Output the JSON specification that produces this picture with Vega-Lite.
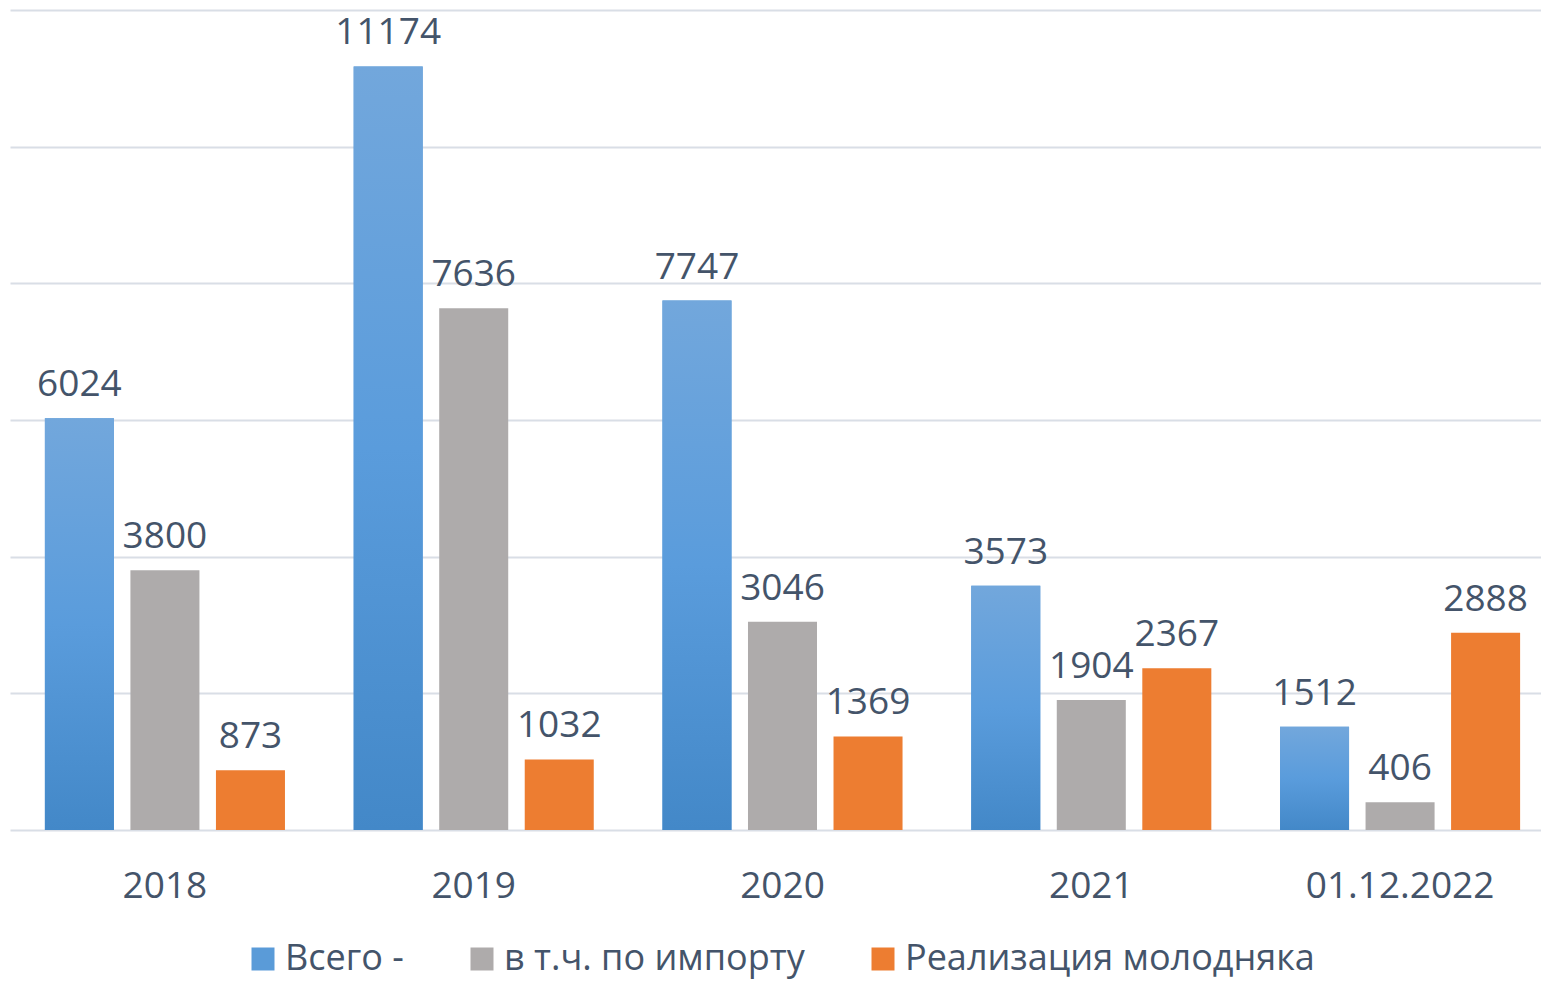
{
  "$schema": "https://vega.github.io/schema/vega-lite/v6.json",
  "autosize": "none",
  "padding": {"left": 10, "top": 10, "right": 0, "bottom": 153},
  "width": 1531,
  "height": 820,
  "background": "white",
  "config": {
    "view": {"stroke": null},
    "font": "Open Sans",
    "axis": {"labelFont": "Open Sans", "labelColor": "#44546A"},
    "legend": {"labelFont": "Open Sans", "labelColor": "#44546A"}
  },
  "data": {
    "values": [
      {"year": "2018", "series": "Всего -", "value": 6024},
      {"year": "2018", "series": "в т.ч. по импорту", "value": 3800},
      {"year": "2018", "series": "Реализация молодняка", "value": 873},
      {"year": "2019", "series": "Всего -", "value": 11174},
      {"year": "2019", "series": "в т.ч. по импорту", "value": 7636},
      {"year": "2019", "series": "Реализация молодняка", "value": 1032},
      {"year": "2020", "series": "Всего -", "value": 7747},
      {"year": "2020", "series": "в т.ч. по импорту", "value": 3046},
      {"year": "2020", "series": "Реализация молодняка", "value": 1369},
      {"year": "2021", "series": "Всего -", "value": 3573},
      {"year": "2021", "series": "в т.ч. по импорту", "value": 1904},
      {"year": "2021", "series": "Реализация молодняка", "value": 2367},
      {"year": "01.12.2022", "series": "Всего -", "value": 1512},
      {"year": "01.12.2022", "series": "в т.ч. по импорту", "value": 406},
      {"year": "01.12.2022", "series": "Реализация молодняка", "value": 2888}
    ]
  },
  "encoding": {
    "x": {
      "field": "year",
      "type": "nominal",
      "sort": ["2018", "2019", "2020", "2021", "01.12.2022"],
      "scale": {"range": [0, 1545], "paddingInner": 0.2225, "paddingOuter": 0.113},
      "axis": {
        "title": null,
        "labelAngle": 0,
        "ticks": false,
        "tickSize": 0,
        "domain": false,
        "labelFontSize": 37,
        "labelPadding": 38,
        "labelLimit": 0,
        "labelBaseline": "top"
      }
    },
    "xOffset": {
      "field": "series",
      "type": "nominal",
      "sort": ["Всего -", "в т.ч. по импорту", "Реализация молодняка"],
      "scale": {"paddingInner": 0.193, "paddingOuter": 0}
    },
    "y": {
      "field": "value",
      "type": "quantitative",
      "scale": {"domain": [0, 12000], "nice": false},
      "axis": {
        "title": null,
        "labels": false,
        "ticks": false,
        "domain": false,
        "values": [0, 2000, 4000, 6000, 8000, 10000, 12000],
        "grid": true,
        "gridColor": "#D9DEE6",
        "gridWidth": 1.8
      }
    }
  },
  "layer": [
    {
      "mark": {"type": "bar"},
      "encoding": {
        "color": {
          "field": "series",
          "type": "nominal",
          "sort": ["Всего -", "в т.ч. по импорту", "Реализация молодняка"],
          "scale": {
            "domain": ["Всего -", "в т.ч. по импорту", "Реализация молодняка"],
            "range": ["#5A9BD8", "#AEABAB", "#ED7D31"]
          },
          "legend": {
            "title": null,
            "orient": "none",
            "legendX": 235,
            "legendY": 931,
            "direction": "horizontal",
            "symbolType": "square",
            "symbolSize": 529,
            "symbolStrokeWidth": 0,
            "labelFontSize": 36,
            "labelOffset": 4,
            "labelLimit": 0,
            "columnPadding": 60
          }
        }
      }
    },
    {
      "transform": [{"filter": "datum.series === 'Всего -'"}],
      "mark": {
        "type": "bar",
        "color": {
          "gradient": "linear", "x1": 0, "y1": 0, "x2": 0, "y2": 1,
          "stops": [{"offset": 0, "color": "#72A7DC"}, {"offset": 0.5, "color": "#5A9CDC"}, {"offset": 1, "color": "#4388C8"}]
        }
      }
    },
    {
      "mark": {"type": "text", "baseline": "alphabetic", "dy": -22, "fontSize": 37, "color": "#44546A", "font": "Open Sans"},
      "encoding": {"text": {"field": "value", "type": "quantitative", "format": "d"}}
    }
  ]
}
